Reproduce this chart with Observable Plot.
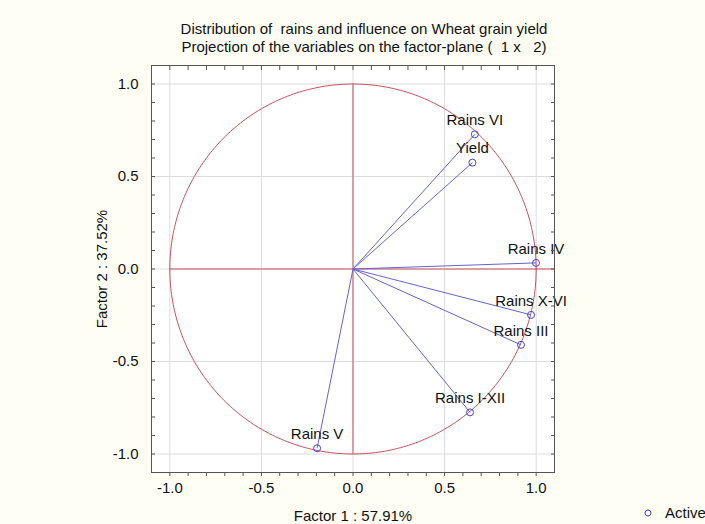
<!DOCTYPE html>
<html>
<head>
<meta charset="utf-8">
<script src="https://cdn.jsdelivr.net/npm/d3@7"></script>
<script src="https://cdn.jsdelivr.net/npm/@observablehq/plot@0.6"></script>
<style>
  html, body { margin: 0; padding: 0; background: #fefef5; }
  body { width: 705px; height: 524px; position: relative; overflow: hidden; font-family: "Liberation Sans", Arial, sans-serif; }
  #title { padding-top: 20px; padding-left: 23px; width: 682px; text-align: center; font-size: 15px; line-height: 18px; color: #111; white-space: nowrap; }
  #legend { position: absolute; left: 642px; top: 504px; font-size: 15px; color: #111; display: flex; align-items: center; white-space: nowrap; }
  svg { display: block; }
</style>
</head>
<body>
<div id="title">Distribution of&nbsp; rains and influence on Wheat grain yield<br>Projection of the variables on the factor-plane (&nbsp; 1 x &nbsp; 2)</div>
<div id="chart"></div>
<div id="legend"><svg width="12" height="12"><circle cx="6" cy="6" r="3" fill="none" stroke="#4646c8" stroke-width="1"/></svg><span style="margin-left:11px">Active</span></div>
<script>
const variables = ["Rains VI", "Yield", "Rains IV", "Rains X-VI", "Rains III", "Rains I-XII", "Rains V"];
const factor1 = [0.665, 0.652, 0.999, 0.972, 0.917, 0.639, -0.196];
const factor2 = [0.728, 0.575, 0.033, -0.248, -0.410, -0.775, -0.969];
const majorTicks = [-1.0, -0.5, 0.0, 0.5, 1.0];
const xLabel = "Factor 1 : 57.91%";
const yLabel = "Factor 2 : 37.52%";

const data = variables.map((v, i) => ({name: v, x: factor1[i], y: factor2[i]}));
const minorTicks = d3.range(-10, 11).map(i => i / 10);
const circle = d3.range(0, 361).map(a => ({x: Math.cos(a * Math.PI / 180), y: Math.sin(a * Math.PI / 180)}));
const fmt = d => d.toFixed(1);

const red = "#c8505e";
const blue = "#4646c8";
const line = "#6464cc";

const chart = Plot.plot({
  width: 705,
  height: 468,
  marginLeft: 151,
  marginRight: 151,
  marginTop: 9,
  marginBottom: 52,
  style: {fontFamily: "Liberation Sans, Arial, sans-serif", fontSize: "15px", color: "#111", background: "transparent"},
  x: {domain: [-1.1, 1.1]},
  y: {domain: [-1.1, 1.1]},
  marks: [
    Plot.frame({fill: "white", stroke: "none"}),
    Plot.gridX(majorTicks, {stroke: "#dcdcdc", strokeOpacity: 1}),
    Plot.gridY(majorTicks, {stroke: "#dcdcdc", strokeOpacity: 1}),
    Plot.line(circle, {x: "x", y: "y", stroke: red, strokeWidth: 1}),
    Plot.ruleY([0], {x1: -1, x2: 1.1, stroke: red, strokeWidth: 1}),
    Plot.ruleX([0], {y1: -1, y2: 1, stroke: red, strokeWidth: 1}),
    Plot.link(data, {x1: 0, y1: 0, x2: "x", y2: "y", stroke: line, strokeWidth: 1}),
    Plot.dot(data, {x: "x", y: "y", r: 3.5, stroke: blue, strokeWidth: 1, fill: "none"}),
    Plot.text(data, {x: "x", y: "y", text: "name", dy: -14, fill: "#111", fontSize: 15}),
    Plot.axisX(majorTicks, {anchor: "bottom", tickSize: 0, tickPadding: 10, tickFormat: fmt, fontSize: 15, label: xLabel, labelAnchor: "center", labelArrow: "none", labelOffset: 48}),
    Plot.axisY(majorTicks, {anchor: "left", tickSize: 0, tickPadding: 13, tickFormat: fmt, fontSize: 15, label: yLabel, labelAnchor: "center", labelArrow: "none", labelOffset: 55}),
    Plot.axisX(minorTicks, {anchor: "bottom", tickSize: 4, text: null, label: null, stroke: "#555"}),
    Plot.axisX(minorTicks, {anchor: "top", tickSize: -4, text: null, label: null, stroke: "#555"}),
    Plot.axisY(minorTicks, {anchor: "left", tickSize: -4, text: null, label: null, stroke: "#555"}),
    Plot.axisY(minorTicks, {anchor: "right", tickSize: -4, text: null, label: null, stroke: "#555"}),
    Plot.frame({stroke: "#555", strokeWidth: 1})
  ]
});
document.getElementById("chart").appendChild(chart);
</script>
</body>
</html>
